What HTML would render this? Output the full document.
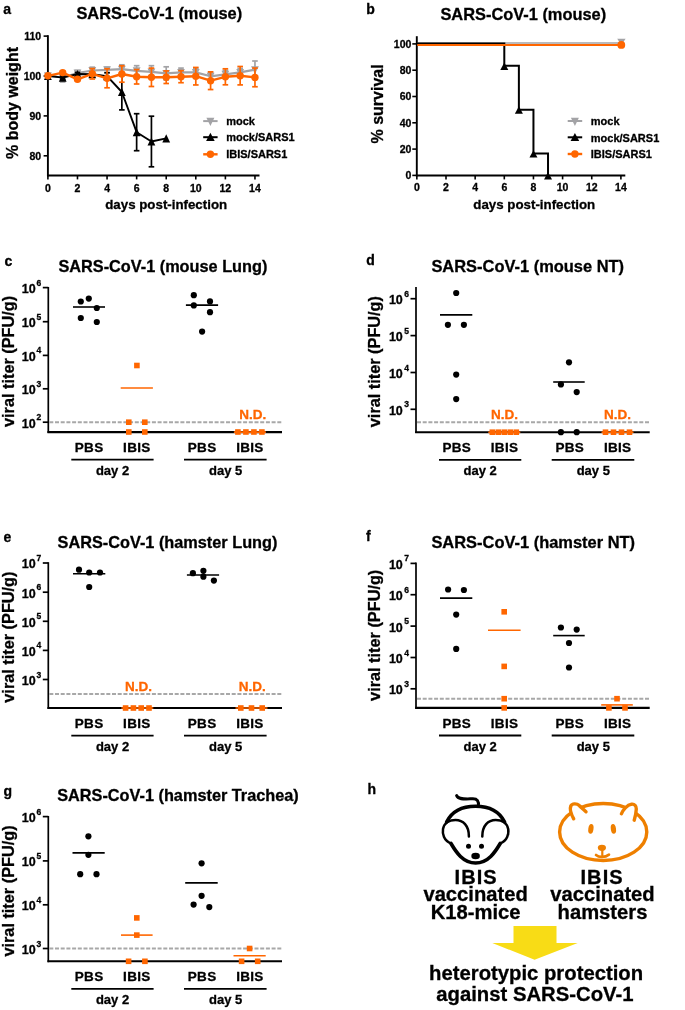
<!DOCTYPE html>
<html><head><meta charset="utf-8"><title>Figure</title>
<style>
html,body{margin:0;padding:0;background:#fff;}
body{width:685px;height:1010px;overflow:hidden;}
svg{display:block;filter:blur(0.3px);}
svg text{font-family:"Liberation Sans",sans-serif;font-weight:bold;stroke-width:0.3px;}
</style></head>
<body>
<svg width="685" height="1010" viewBox="0 0 685 1010">
<rect width="685" height="1010" fill="#fff"/>
<text x="3.3" y="13.6" font-size="14" text-anchor="start" fill="#000" stroke="#000" >a</text>
<text x="366.2" y="13.6" font-size="14" text-anchor="start" fill="#000" stroke="#000" >b</text>
<text x="4.4" y="265.6" font-size="14" text-anchor="start" fill="#000" stroke="#000" >c</text>
<text x="366.2" y="265.3" font-size="14" text-anchor="start" fill="#000" stroke="#000" >d</text>
<text x="3.5" y="541.5" font-size="14" text-anchor="start" fill="#000" stroke="#000" >e</text>
<text x="366.0" y="541.2" font-size="14" text-anchor="start" fill="#000" stroke="#000" >f</text>
<text x="3.5" y="795.5" font-size="14" text-anchor="start" fill="#000" stroke="#000" >g</text>
<text x="367.6" y="794.4" font-size="14" text-anchor="start" fill="#000" stroke="#000" >h</text>
<text x="76.4" y="19.3" font-size="16.4" text-anchor="start" fill="#000" stroke="#000" >SARS-CoV-1 (mouse)</text>
<text x="440.4" y="19.6" font-size="16.4" text-anchor="start" fill="#000" stroke="#000" >SARS-CoV-1 (mouse)</text>
<text x="58.4" y="271.6" font-size="16.3" text-anchor="start" fill="#000" stroke="#000" >SARS-CoV-1 (mouse Lung)</text>
<text x="431.4" y="271.8" font-size="16.45" text-anchor="start" fill="#000" stroke="#000" >SARS-CoV-1 (mouse NT)</text>
<text x="57.6" y="547.8" font-size="16.3" text-anchor="start" fill="#000" stroke="#000" >SARS-CoV-1 (hamster Lung)</text>
<text x="431.4" y="547.7" font-size="16.45" text-anchor="start" fill="#000" stroke="#000" >SARS-CoV-1 (hamster NT)</text>
<text x="57.2" y="801.0" font-size="16.3" text-anchor="start" fill="#000" stroke="#000" >SARS-CoV-1 (hamster Trachea)</text>
<line x1="47.9" y1="35.2" x2="47.9" y2="176.3" stroke="#000" stroke-width="1.9" />
<line x1="47.0" y1="175.4" x2="259.5" y2="175.4" stroke="#000" stroke-width="2.0" />
<line x1="43.6" y1="36.1" x2="47.9" y2="36.1" stroke="#000" stroke-width="1.6" />
<text x="41.2" y="40.2" font-size="10.5" text-anchor="end" fill="#000" stroke="#000" >110</text>
<line x1="43.6" y1="76.0" x2="47.9" y2="76.0" stroke="#000" stroke-width="1.6" />
<text x="41.2" y="80.1" font-size="10.5" text-anchor="end" fill="#000" stroke="#000" >100</text>
<line x1="43.6" y1="115.9" x2="47.9" y2="115.9" stroke="#000" stroke-width="1.6" />
<text x="41.2" y="120.0" font-size="10.5" text-anchor="end" fill="#000" stroke="#000" >90</text>
<line x1="43.6" y1="155.8" x2="47.9" y2="155.8" stroke="#000" stroke-width="1.6" />
<text x="41.2" y="159.9" font-size="10.5" text-anchor="end" fill="#000" stroke="#000" >80</text>
<line x1="47.9" y1="175.4" x2="47.9" y2="179.4" stroke="#000" stroke-width="1.6" />
<text x="47.9" y="191.6" font-size="10.5" text-anchor="middle" fill="#000" stroke="#000" >0</text>
<line x1="77.47999999999999" y1="175.4" x2="77.47999999999999" y2="179.4" stroke="#000" stroke-width="1.6" />
<text x="77.47999999999999" y="191.6" font-size="10.5" text-anchor="middle" fill="#000" stroke="#000" >2</text>
<line x1="107.06" y1="175.4" x2="107.06" y2="179.4" stroke="#000" stroke-width="1.6" />
<text x="107.06" y="191.6" font-size="10.5" text-anchor="middle" fill="#000" stroke="#000" >4</text>
<line x1="136.64" y1="175.4" x2="136.64" y2="179.4" stroke="#000" stroke-width="1.6" />
<text x="136.64" y="191.6" font-size="10.5" text-anchor="middle" fill="#000" stroke="#000" >6</text>
<line x1="166.22" y1="175.4" x2="166.22" y2="179.4" stroke="#000" stroke-width="1.6" />
<text x="166.22" y="191.6" font-size="10.5" text-anchor="middle" fill="#000" stroke="#000" >8</text>
<line x1="195.79999999999998" y1="175.4" x2="195.79999999999998" y2="179.4" stroke="#000" stroke-width="1.6" />
<text x="195.79999999999998" y="191.6" font-size="10.5" text-anchor="middle" fill="#000" stroke="#000" >10</text>
<line x1="225.38" y1="175.4" x2="225.38" y2="179.4" stroke="#000" stroke-width="1.6" />
<text x="225.38" y="191.6" font-size="10.5" text-anchor="middle" fill="#000" stroke="#000" >12</text>
<line x1="254.96" y1="175.4" x2="254.96" y2="179.4" stroke="#000" stroke-width="1.6" />
<text x="254.96" y="191.6" font-size="10.5" text-anchor="middle" fill="#000" stroke="#000" >14</text>
<text x="166.2" y="209.4" font-size="13.3" text-anchor="middle" fill="#000" stroke="#000" >days post-infection</text>
<text transform="translate(18.1,103) rotate(-90)" stroke="#000" font-size="16" text-anchor="middle">% body weight</text>
<polyline points="47.90,75.80 62.69,77.50 77.48,73.00 92.27,70.50 107.06,69.80 121.85,69.20 136.64,70.80 151.43,71.90 166.22,73.40 181.01,72.40 195.80,72.40 210.59,76.30 225.38,74.30 240.17,72.40 254.96,69.70" fill="none" stroke="#A3A3A6" stroke-width="2.2" stroke-linejoin="round"/>
<line x1="47.9" y1="74.3" x2="47.9" y2="77.3" stroke="#A3A3A6" stroke-width="1.7" />
<line x1="45.1" y1="74.3" x2="50.699999999999996" y2="74.3" stroke="#A3A3A6" stroke-width="1.7" />
<line x1="45.1" y1="77.3" x2="50.699999999999996" y2="77.3" stroke="#A3A3A6" stroke-width="1.7" />
<line x1="62.69" y1="73.0" x2="62.69" y2="82.0" stroke="#A3A3A6" stroke-width="1.7" />
<line x1="59.89" y1="73.0" x2="65.49" y2="73.0" stroke="#A3A3A6" stroke-width="1.7" />
<line x1="59.89" y1="82.0" x2="65.49" y2="82.0" stroke="#A3A3A6" stroke-width="1.7" />
<line x1="77.47999999999999" y1="70.5" x2="77.47999999999999" y2="75.5" stroke="#A3A3A6" stroke-width="1.7" />
<line x1="74.67999999999999" y1="70.5" x2="80.27999999999999" y2="70.5" stroke="#A3A3A6" stroke-width="1.7" />
<line x1="74.67999999999999" y1="75.5" x2="80.27999999999999" y2="75.5" stroke="#A3A3A6" stroke-width="1.7" />
<line x1="92.27" y1="67.2" x2="92.27" y2="73.8" stroke="#A3A3A6" stroke-width="1.7" />
<line x1="89.47" y1="67.2" x2="95.07" y2="67.2" stroke="#A3A3A6" stroke-width="1.7" />
<line x1="89.47" y1="73.8" x2="95.07" y2="73.8" stroke="#A3A3A6" stroke-width="1.7" />
<line x1="107.06" y1="67.2" x2="107.06" y2="72.39999999999999" stroke="#A3A3A6" stroke-width="1.7" />
<line x1="104.26" y1="67.2" x2="109.86" y2="67.2" stroke="#A3A3A6" stroke-width="1.7" />
<line x1="104.26" y1="72.39999999999999" x2="109.86" y2="72.39999999999999" stroke="#A3A3A6" stroke-width="1.7" />
<line x1="121.85" y1="64.8" x2="121.85" y2="73.60000000000001" stroke="#A3A3A6" stroke-width="1.7" />
<line x1="119.05" y1="64.8" x2="124.64999999999999" y2="64.8" stroke="#A3A3A6" stroke-width="1.7" />
<line x1="119.05" y1="73.60000000000001" x2="124.64999999999999" y2="73.60000000000001" stroke="#A3A3A6" stroke-width="1.7" />
<line x1="136.64" y1="65.7" x2="136.64" y2="75.89999999999999" stroke="#A3A3A6" stroke-width="1.7" />
<line x1="133.83999999999997" y1="65.7" x2="139.44" y2="65.7" stroke="#A3A3A6" stroke-width="1.7" />
<line x1="133.83999999999997" y1="75.89999999999999" x2="139.44" y2="75.89999999999999" stroke="#A3A3A6" stroke-width="1.7" />
<line x1="151.43" y1="65.7" x2="151.43" y2="78.10000000000001" stroke="#A3A3A6" stroke-width="1.7" />
<line x1="148.63" y1="65.7" x2="154.23000000000002" y2="65.7" stroke="#A3A3A6" stroke-width="1.7" />
<line x1="148.63" y1="78.10000000000001" x2="154.23000000000002" y2="78.10000000000001" stroke="#A3A3A6" stroke-width="1.7" />
<line x1="166.22" y1="66.80000000000001" x2="166.22" y2="80.0" stroke="#A3A3A6" stroke-width="1.7" />
<line x1="163.42" y1="66.80000000000001" x2="169.02" y2="66.80000000000001" stroke="#A3A3A6" stroke-width="1.7" />
<line x1="163.42" y1="80.0" x2="169.02" y2="80.0" stroke="#A3A3A6" stroke-width="1.7" />
<line x1="181.01" y1="68.10000000000001" x2="181.01" y2="76.7" stroke="#A3A3A6" stroke-width="1.7" />
<line x1="178.20999999999998" y1="68.10000000000001" x2="183.81" y2="68.10000000000001" stroke="#A3A3A6" stroke-width="1.7" />
<line x1="178.20999999999998" y1="76.7" x2="183.81" y2="76.7" stroke="#A3A3A6" stroke-width="1.7" />
<line x1="195.79999999999998" y1="68.4" x2="195.79999999999998" y2="76.4" stroke="#A3A3A6" stroke-width="1.7" />
<line x1="192.99999999999997" y1="68.4" x2="198.6" y2="68.4" stroke="#A3A3A6" stroke-width="1.7" />
<line x1="192.99999999999997" y1="76.4" x2="198.6" y2="76.4" stroke="#A3A3A6" stroke-width="1.7" />
<line x1="210.59" y1="72.5" x2="210.59" y2="80.1" stroke="#A3A3A6" stroke-width="1.7" />
<line x1="207.79" y1="72.5" x2="213.39000000000001" y2="72.5" stroke="#A3A3A6" stroke-width="1.7" />
<line x1="207.79" y1="80.1" x2="213.39000000000001" y2="80.1" stroke="#A3A3A6" stroke-width="1.7" />
<line x1="225.38" y1="70.3" x2="225.38" y2="78.3" stroke="#A3A3A6" stroke-width="1.7" />
<line x1="222.57999999999998" y1="70.3" x2="228.18" y2="70.3" stroke="#A3A3A6" stroke-width="1.7" />
<line x1="222.57999999999998" y1="78.3" x2="228.18" y2="78.3" stroke="#A3A3A6" stroke-width="1.7" />
<line x1="240.17" y1="68.4" x2="240.17" y2="76.4" stroke="#A3A3A6" stroke-width="1.7" />
<line x1="237.36999999999998" y1="68.4" x2="242.97" y2="68.4" stroke="#A3A3A6" stroke-width="1.7" />
<line x1="237.36999999999998" y1="76.4" x2="242.97" y2="76.4" stroke="#A3A3A6" stroke-width="1.7" />
<line x1="254.96" y1="61.0" x2="254.96" y2="78.4" stroke="#A3A3A6" stroke-width="1.7" />
<line x1="252.16" y1="61.0" x2="257.76" y2="61.0" stroke="#A3A3A6" stroke-width="1.7" />
<line x1="252.16" y1="78.4" x2="257.76" y2="78.4" stroke="#A3A3A6" stroke-width="1.7" />
<polygon points="44.00,72.29 51.80,72.29 47.90,80.09" fill="#A3A3A6"/>
<polygon points="58.79,73.99 66.59,73.99 62.69,81.79" fill="#A3A3A6"/>
<polygon points="73.58,69.49 81.38,69.49 77.48,77.29" fill="#A3A3A6"/>
<polygon points="88.37,66.99 96.17,66.99 92.27,74.79" fill="#A3A3A6"/>
<polygon points="103.16,66.29 110.96,66.29 107.06,74.09" fill="#A3A3A6"/>
<polygon points="117.95,65.69 125.75,65.69 121.85,73.49" fill="#A3A3A6"/>
<polygon points="132.74,67.29 140.54,67.29 136.64,75.09" fill="#A3A3A6"/>
<polygon points="147.53,68.39 155.33,68.39 151.43,76.19" fill="#A3A3A6"/>
<polygon points="162.32,69.89 170.12,69.89 166.22,77.69" fill="#A3A3A6"/>
<polygon points="177.11,68.89 184.91,68.89 181.01,76.69" fill="#A3A3A6"/>
<polygon points="191.90,68.89 199.70,68.89 195.80,76.69" fill="#A3A3A6"/>
<polygon points="206.69,72.79 214.49,72.79 210.59,80.59" fill="#A3A3A6"/>
<polygon points="221.48,70.79 229.28,70.79 225.38,78.59" fill="#A3A3A6"/>
<polygon points="236.27,68.89 244.07,68.89 240.17,76.69" fill="#A3A3A6"/>
<polygon points="251.06,66.19 258.86,66.19 254.96,73.99" fill="#A3A3A6"/>
<polyline points="47.90,75.80 62.69,77.60 77.48,74.00 92.27,74.20 107.06,76.20 121.85,92.00 136.64,132.20 151.43,141.50 166.22,138.40" fill="none" stroke="#000" stroke-width="1.9" stroke-linejoin="round"/>
<line x1="62.69" y1="76.1" x2="62.69" y2="79.1" stroke="#000" stroke-width="1.7" />
<line x1="59.89" y1="76.1" x2="65.49" y2="76.1" stroke="#000" stroke-width="1.7" />
<line x1="59.89" y1="79.1" x2="65.49" y2="79.1" stroke="#000" stroke-width="1.7" />
<line x1="77.47999999999999" y1="72.5" x2="77.47999999999999" y2="75.5" stroke="#000" stroke-width="1.7" />
<line x1="74.67999999999999" y1="72.5" x2="80.27999999999999" y2="72.5" stroke="#000" stroke-width="1.7" />
<line x1="74.67999999999999" y1="75.5" x2="80.27999999999999" y2="75.5" stroke="#000" stroke-width="1.7" />
<line x1="92.27" y1="72.4" x2="92.27" y2="76.0" stroke="#000" stroke-width="1.7" />
<line x1="89.47" y1="72.4" x2="95.07" y2="72.4" stroke="#000" stroke-width="1.7" />
<line x1="89.47" y1="76.0" x2="95.07" y2="76.0" stroke="#000" stroke-width="1.7" />
<line x1="107.06" y1="72.8" x2="107.06" y2="79.60000000000001" stroke="#000" stroke-width="1.7" />
<line x1="104.26" y1="72.8" x2="109.86" y2="72.8" stroke="#000" stroke-width="1.7" />
<line x1="104.26" y1="79.60000000000001" x2="109.86" y2="79.60000000000001" stroke="#000" stroke-width="1.7" />
<line x1="121.85" y1="74.1" x2="121.85" y2="109.9" stroke="#000" stroke-width="1.7" />
<line x1="119.05" y1="74.1" x2="124.64999999999999" y2="74.1" stroke="#000" stroke-width="1.7" />
<line x1="119.05" y1="109.9" x2="124.64999999999999" y2="109.9" stroke="#000" stroke-width="1.7" />
<line x1="136.64" y1="113.69999999999999" x2="136.64" y2="150.7" stroke="#000" stroke-width="1.7" />
<line x1="133.83999999999997" y1="113.69999999999999" x2="139.44" y2="113.69999999999999" stroke="#000" stroke-width="1.7" />
<line x1="133.83999999999997" y1="150.7" x2="139.44" y2="150.7" stroke="#000" stroke-width="1.7" />
<line x1="151.43" y1="116.2" x2="151.43" y2="166.8" stroke="#000" stroke-width="1.7" />
<line x1="148.63" y1="116.2" x2="154.23000000000002" y2="116.2" stroke="#000" stroke-width="1.7" />
<line x1="148.63" y1="166.8" x2="154.23000000000002" y2="166.8" stroke="#000" stroke-width="1.7" />
<polygon points="44.00,79.90 51.80,79.90 47.90,71.70" fill="#000"/>
<polygon points="58.79,81.70 66.59,81.70 62.69,73.50" fill="#000"/>
<polygon points="73.58,78.10 81.38,78.10 77.48,69.90" fill="#000"/>
<polygon points="88.37,78.30 96.17,78.30 92.27,70.10" fill="#000"/>
<polygon points="103.16,80.30 110.96,80.30 107.06,72.10" fill="#000"/>
<polygon points="117.95,96.10 125.75,96.10 121.85,87.90" fill="#000"/>
<polygon points="132.74,136.30 140.54,136.30 136.64,128.10" fill="#000"/>
<polygon points="147.53,145.60 155.33,145.60 151.43,137.40" fill="#000"/>
<polygon points="162.32,142.50 170.12,142.50 166.22,134.30" fill="#000"/>
<polyline points="47.90,75.80 62.69,72.60 77.48,79.30 92.27,73.80 107.06,78.30 121.85,74.00 136.64,76.80 151.43,77.30 166.22,77.20 181.01,76.70 195.80,76.20 210.59,80.70 225.38,76.80 240.17,75.70 254.96,77.40" fill="none" stroke="#FF6600" stroke-width="2.4" stroke-linejoin="round"/>
<line x1="62.69" y1="71.1" x2="62.69" y2="74.1" stroke="#FF6600" stroke-width="1.7" />
<line x1="59.89" y1="71.1" x2="65.49" y2="71.1" stroke="#FF6600" stroke-width="1.7" />
<line x1="59.89" y1="74.1" x2="65.49" y2="74.1" stroke="#FF6600" stroke-width="1.7" />
<line x1="77.47999999999999" y1="77.8" x2="77.47999999999999" y2="80.8" stroke="#FF6600" stroke-width="1.7" />
<line x1="74.67999999999999" y1="77.8" x2="80.27999999999999" y2="77.8" stroke="#FF6600" stroke-width="1.7" />
<line x1="74.67999999999999" y1="80.8" x2="80.27999999999999" y2="80.8" stroke="#FF6600" stroke-width="1.7" />
<line x1="92.27" y1="68.6" x2="92.27" y2="79.0" stroke="#FF6600" stroke-width="1.7" />
<line x1="89.47" y1="68.6" x2="95.07" y2="68.6" stroke="#FF6600" stroke-width="1.7" />
<line x1="89.47" y1="79.0" x2="95.07" y2="79.0" stroke="#FF6600" stroke-width="1.7" />
<line x1="107.06" y1="68.8" x2="107.06" y2="87.8" stroke="#FF6600" stroke-width="1.7" />
<line x1="104.26" y1="68.8" x2="109.86" y2="68.8" stroke="#FF6600" stroke-width="1.7" />
<line x1="104.26" y1="87.8" x2="109.86" y2="87.8" stroke="#FF6600" stroke-width="1.7" />
<line x1="121.85" y1="65.8" x2="121.85" y2="82.2" stroke="#FF6600" stroke-width="1.7" />
<line x1="119.05" y1="65.8" x2="124.64999999999999" y2="65.8" stroke="#FF6600" stroke-width="1.7" />
<line x1="119.05" y1="82.2" x2="124.64999999999999" y2="82.2" stroke="#FF6600" stroke-width="1.7" />
<line x1="136.64" y1="69.6" x2="136.64" y2="84.0" stroke="#FF6600" stroke-width="1.7" />
<line x1="133.83999999999997" y1="69.6" x2="139.44" y2="69.6" stroke="#FF6600" stroke-width="1.7" />
<line x1="133.83999999999997" y1="84.0" x2="139.44" y2="84.0" stroke="#FF6600" stroke-width="1.7" />
<line x1="151.43" y1="68.1" x2="151.43" y2="86.5" stroke="#FF6600" stroke-width="1.7" />
<line x1="148.63" y1="68.1" x2="154.23000000000002" y2="68.1" stroke="#FF6600" stroke-width="1.7" />
<line x1="148.63" y1="86.5" x2="154.23000000000002" y2="86.5" stroke="#FF6600" stroke-width="1.7" />
<line x1="166.22" y1="70.9" x2="166.22" y2="83.5" stroke="#FF6600" stroke-width="1.7" />
<line x1="163.42" y1="70.9" x2="169.02" y2="70.9" stroke="#FF6600" stroke-width="1.7" />
<line x1="163.42" y1="83.5" x2="169.02" y2="83.5" stroke="#FF6600" stroke-width="1.7" />
<line x1="181.01" y1="70.7" x2="181.01" y2="82.7" stroke="#FF6600" stroke-width="1.7" />
<line x1="178.20999999999998" y1="70.7" x2="183.81" y2="70.7" stroke="#FF6600" stroke-width="1.7" />
<line x1="178.20999999999998" y1="82.7" x2="183.81" y2="82.7" stroke="#FF6600" stroke-width="1.7" />
<line x1="195.79999999999998" y1="67.45" x2="195.79999999999998" y2="84.95" stroke="#FF6600" stroke-width="1.7" />
<line x1="192.99999999999997" y1="67.45" x2="198.6" y2="67.45" stroke="#FF6600" stroke-width="1.7" />
<line x1="192.99999999999997" y1="84.95" x2="198.6" y2="84.95" stroke="#FF6600" stroke-width="1.7" />
<line x1="210.59" y1="71.85000000000001" x2="210.59" y2="89.55" stroke="#FF6600" stroke-width="1.7" />
<line x1="207.79" y1="71.85000000000001" x2="213.39000000000001" y2="71.85000000000001" stroke="#FF6600" stroke-width="1.7" />
<line x1="207.79" y1="89.55" x2="213.39000000000001" y2="89.55" stroke="#FF6600" stroke-width="1.7" />
<line x1="225.38" y1="68.8" x2="225.38" y2="84.8" stroke="#FF6600" stroke-width="1.7" />
<line x1="222.57999999999998" y1="68.8" x2="228.18" y2="68.8" stroke="#FF6600" stroke-width="1.7" />
<line x1="222.57999999999998" y1="84.8" x2="228.18" y2="84.8" stroke="#FF6600" stroke-width="1.7" />
<line x1="240.17" y1="66.5" x2="240.17" y2="84.9" stroke="#FF6600" stroke-width="1.7" />
<line x1="237.36999999999998" y1="66.5" x2="242.97" y2="66.5" stroke="#FF6600" stroke-width="1.7" />
<line x1="237.36999999999998" y1="84.9" x2="242.97" y2="84.9" stroke="#FF6600" stroke-width="1.7" />
<line x1="254.96" y1="68.05000000000001" x2="254.96" y2="86.75" stroke="#FF6600" stroke-width="1.7" />
<line x1="252.16" y1="68.05000000000001" x2="257.76" y2="68.05000000000001" stroke="#FF6600" stroke-width="1.7" />
<line x1="252.16" y1="86.75" x2="257.76" y2="86.75" stroke="#FF6600" stroke-width="1.7" />
<circle cx="47.9" cy="75.8" r="3.7" fill="#FF6600"/>
<circle cx="62.69" cy="72.6" r="3.7" fill="#FF6600"/>
<circle cx="77.47999999999999" cy="79.3" r="3.7" fill="#FF6600"/>
<circle cx="92.27" cy="73.8" r="3.7" fill="#FF6600"/>
<circle cx="107.06" cy="78.3" r="3.7" fill="#FF6600"/>
<circle cx="121.85" cy="74.0" r="3.7" fill="#FF6600"/>
<circle cx="136.64" cy="76.8" r="3.7" fill="#FF6600"/>
<circle cx="151.43" cy="77.3" r="3.7" fill="#FF6600"/>
<circle cx="166.22" cy="77.2" r="3.7" fill="#FF6600"/>
<circle cx="181.01" cy="76.7" r="3.7" fill="#FF6600"/>
<circle cx="195.79999999999998" cy="76.2" r="3.7" fill="#FF6600"/>
<circle cx="210.59" cy="80.7" r="3.7" fill="#FF6600"/>
<circle cx="225.38" cy="76.8" r="3.7" fill="#FF6600"/>
<circle cx="240.17" cy="75.7" r="3.7" fill="#FF6600"/>
<circle cx="254.96" cy="77.4" r="3.7" fill="#FF6600"/>
<line x1="203.2" y1="121.1" x2="217.6" y2="121.1" stroke="#A3A3A6" stroke-width="2.0" />
<polygon points="206.40,117.81 214.40,117.81 210.40,126.01" fill="#A3A3A6"/>
<line x1="203.2" y1="137.2" x2="217.6" y2="137.2" stroke="#000" stroke-width="2.0" />
<polygon points="206.10,141.00 214.70,141.00 210.40,132.80" fill="#000"/>
<line x1="203.2" y1="154.3" x2="217.6" y2="154.3" stroke="#FF6600" stroke-width="2.4" />
<circle cx="210.4" cy="154.3" r="3.7" fill="#FF6600"/>
<text x="226.2" y="125.0" font-size="11" text-anchor="start" fill="#000" stroke="#000" >mock</text>
<text x="226.2" y="141.2" font-size="11" text-anchor="start" fill="#000" stroke="#000" >mock/SARS1</text>
<text x="226.2" y="157.6" font-size="11" text-anchor="start" fill="#000" stroke="#000" >IBIS/SARS1</text>
<line x1="416.8" y1="36.2" x2="416.8" y2="176.3" stroke="#000" stroke-width="1.9" />
<line x1="415.90000000000003" y1="175.4" x2="625.3" y2="175.4" stroke="#000" stroke-width="2.0" />
<line x1="412.3" y1="175.4" x2="416.8" y2="175.4" stroke="#000" stroke-width="1.6" />
<text x="411.4" y="179.3" font-size="10.5" text-anchor="end" fill="#000" stroke="#000" >0</text>
<line x1="412.3" y1="149.10000000000002" x2="416.8" y2="149.10000000000002" stroke="#000" stroke-width="1.6" />
<text x="411.4" y="153.00000000000003" font-size="10.5" text-anchor="end" fill="#000" stroke="#000" >20</text>
<line x1="412.3" y1="122.80000000000001" x2="416.8" y2="122.80000000000001" stroke="#000" stroke-width="1.6" />
<text x="411.4" y="126.70000000000002" font-size="10.5" text-anchor="end" fill="#000" stroke="#000" >40</text>
<line x1="412.3" y1="96.50000000000001" x2="416.8" y2="96.50000000000001" stroke="#000" stroke-width="1.6" />
<text x="411.4" y="100.40000000000002" font-size="10.5" text-anchor="end" fill="#000" stroke="#000" >60</text>
<line x1="412.3" y1="70.20000000000002" x2="416.8" y2="70.20000000000002" stroke="#000" stroke-width="1.6" />
<text x="411.4" y="74.10000000000002" font-size="10.5" text-anchor="end" fill="#000" stroke="#000" >80</text>
<line x1="412.3" y1="43.900000000000006" x2="416.8" y2="43.900000000000006" stroke="#000" stroke-width="1.6" />
<text x="411.4" y="47.800000000000004" font-size="10.5" text-anchor="end" fill="#000" stroke="#000" >100</text>
<line x1="416.85" y1="175.4" x2="416.85" y2="179.4" stroke="#000" stroke-width="1.6" />
<text x="416.85" y="191.4" font-size="10.5" text-anchor="middle" fill="#000" stroke="#000" >0</text>
<line x1="446.0" y1="175.4" x2="446.0" y2="179.4" stroke="#000" stroke-width="1.6" />
<text x="446.0" y="191.4" font-size="10.5" text-anchor="middle" fill="#000" stroke="#000" >2</text>
<line x1="475.15000000000003" y1="175.4" x2="475.15000000000003" y2="179.4" stroke="#000" stroke-width="1.6" />
<text x="475.15000000000003" y="191.4" font-size="10.5" text-anchor="middle" fill="#000" stroke="#000" >4</text>
<line x1="504.3" y1="175.4" x2="504.3" y2="179.4" stroke="#000" stroke-width="1.6" />
<text x="504.3" y="191.4" font-size="10.5" text-anchor="middle" fill="#000" stroke="#000" >6</text>
<line x1="533.45" y1="175.4" x2="533.45" y2="179.4" stroke="#000" stroke-width="1.6" />
<text x="533.45" y="191.4" font-size="10.5" text-anchor="middle" fill="#000" stroke="#000" >8</text>
<line x1="562.6" y1="175.4" x2="562.6" y2="179.4" stroke="#000" stroke-width="1.6" />
<text x="562.6" y="191.4" font-size="10.5" text-anchor="middle" fill="#000" stroke="#000" >10</text>
<line x1="591.75" y1="175.4" x2="591.75" y2="179.4" stroke="#000" stroke-width="1.6" />
<text x="591.75" y="191.4" font-size="10.5" text-anchor="middle" fill="#000" stroke="#000" >12</text>
<line x1="620.9" y1="175.4" x2="620.9" y2="179.4" stroke="#000" stroke-width="1.6" />
<text x="620.9" y="191.4" font-size="10.5" text-anchor="middle" fill="#000" stroke="#000" >14</text>
<text x="534.3" y="209.0" font-size="13.3" text-anchor="middle" fill="#000" stroke="#000" >days post-infection</text>
<text transform="translate(382.9,103.9) rotate(-90)" stroke="#000" font-size="16" text-anchor="middle">% survival</text>
<line x1="417.8" y1="43.0" x2="620.9" y2="43.0" stroke="#A3A3A6" stroke-width="1.7" />
<polygon points="617.20,38.72 625.60,38.72 621.40,45.12" fill="#A3A3A6"/>
<polyline points="416.80,43.60 504.30,43.60 504.30,65.82 518.88,65.82 518.88,109.65 533.45,109.65 533.45,153.48 548.02,153.48 548.02,175.40" fill="none" stroke="#000" stroke-width="2.0"/>
<polygon points="500.30,69.92 508.30,69.92 504.30,62.52" fill="#000"/>
<polygon points="514.88,113.75 522.88,113.75 518.88,106.35" fill="#000"/>
<polygon points="529.45,157.58 537.45,157.58 533.45,150.18" fill="#000"/>
<polygon points="544.02,179.50 552.02,179.50 548.02,172.10" fill="#000"/>
<line x1="417.3" y1="45.0" x2="620.9" y2="45.0" stroke="#FF6600" stroke-width="2.2" />
<circle cx="621.3" cy="44.9" r="3.9" fill="#FF6600"/>
<line x1="567.7" y1="121.0" x2="582.2" y2="121.0" stroke="#A3A3A6" stroke-width="2.0" />
<polygon points="570.90,117.71 578.90,117.71 574.90,125.91" fill="#A3A3A6"/>
<line x1="567.7" y1="137.3" x2="582.2" y2="137.3" stroke="#000" stroke-width="2.0" />
<polygon points="570.60,141.10 579.20,141.10 574.90,132.90" fill="#000"/>
<line x1="567.7" y1="154.0" x2="582.2" y2="154.0" stroke="#FF6600" stroke-width="2.4" />
<circle cx="574.9" cy="154.0" r="3.7" fill="#FF6600"/>
<text x="590.8" y="125.3" font-size="11" text-anchor="start" fill="#000" stroke="#000" >mock</text>
<text x="590.8" y="141.6" font-size="11" text-anchor="start" fill="#000" stroke="#000" >mock/SARS1</text>
<text x="590.8" y="158.0" font-size="11" text-anchor="start" fill="#000" stroke="#000" >IBIS/SARS1</text>
<line x1="48.3" y1="287.0" x2="48.3" y2="433.0" stroke="#000" stroke-width="1.7" />
<line x1="47.449999999999996" y1="432.1" x2="282.0" y2="432.1" stroke="#000" stroke-width="2.1" />
<line x1="42.8" y1="287.6" x2="48.3" y2="287.6" stroke="#000" stroke-width="1.7" />
<text x="35.6" y="293.0" font-size="12.5" text-anchor="end" fill="#000" stroke="#000" >10</text>
<text x="36.6" y="285.6" font-size="8.5" text-anchor="start" fill="#000" stroke="#000" >6</text>
<line x1="42.8" y1="321.7" x2="48.3" y2="321.7" stroke="#000" stroke-width="1.7" />
<text x="35.6" y="327.09999999999997" font-size="12.5" text-anchor="end" fill="#000" stroke="#000" >10</text>
<text x="36.6" y="319.7" font-size="8.5" text-anchor="start" fill="#000" stroke="#000" >5</text>
<line x1="42.8" y1="355.4" x2="48.3" y2="355.4" stroke="#000" stroke-width="1.7" />
<text x="35.6" y="360.79999999999995" font-size="12.5" text-anchor="end" fill="#000" stroke="#000" >10</text>
<text x="36.6" y="353.4" font-size="8.5" text-anchor="start" fill="#000" stroke="#000" >4</text>
<line x1="42.8" y1="388.8" x2="48.3" y2="388.8" stroke="#000" stroke-width="1.7" />
<text x="35.6" y="394.2" font-size="12.5" text-anchor="end" fill="#000" stroke="#000" >10</text>
<text x="36.6" y="386.8" font-size="8.5" text-anchor="start" fill="#000" stroke="#000" >3</text>
<line x1="42.8" y1="422.2" x2="48.3" y2="422.2" stroke="#000" stroke-width="1.7" />
<text x="35.6" y="427.59999999999997" font-size="12.5" text-anchor="end" fill="#000" stroke="#000" >10</text>
<text x="36.6" y="420.2" font-size="8.5" text-anchor="start" fill="#000" stroke="#000" >2</text>
<line x1="49.3" y1="422.2" x2="282.0" y2="422.2" stroke="#A8A8A8" stroke-width="2.0" stroke-dasharray="4 1.7"/>
<line x1="73.0" y1="307.0" x2="105.0" y2="307.0" stroke="#000" stroke-width="1.6" />
<circle cx="80.8" cy="301.5" r="3.1" fill="#000"/>
<circle cx="88.8" cy="298.6" r="3.1" fill="#000"/>
<circle cx="96.8" cy="308.0" r="3.1" fill="#000"/>
<circle cx="80.8" cy="318.0" r="3.1" fill="#000"/>
<circle cx="96.8" cy="322.0" r="3.1" fill="#000"/>
<line x1="120.7" y1="388.0" x2="152.9" y2="388.0" stroke="#FF6600" stroke-width="1.6" />
<rect x="134.10" y="362.70" width="5.6" height="5.6" fill="#FF6600"/>
<rect x="126.00" y="419.40" width="5.6" height="5.6" fill="#FF6600"/>
<rect x="142.00" y="419.40" width="5.6" height="5.6" fill="#FF6600"/>
<rect x="126.00" y="429.20" width="5.6" height="5.6" fill="#FF6600"/>
<rect x="142.00" y="429.20" width="5.6" height="5.6" fill="#FF6600"/>
<line x1="185.9" y1="305.1" x2="218.1" y2="305.1" stroke="#000" stroke-width="1.6" />
<circle cx="193.8" cy="295.2" r="3.1" fill="#000"/>
<circle cx="193.8" cy="305.4" r="3.1" fill="#000"/>
<circle cx="210.0" cy="301.4" r="3.1" fill="#000"/>
<circle cx="210.0" cy="312.2" r="3.1" fill="#000"/>
<circle cx="202.1" cy="331.6" r="3.1" fill="#000"/>
<line x1="233.9" y1="432.1" x2="265.9" y2="432.1" stroke="#FF6600" stroke-width="1.6" />
<rect x="235.10" y="429.20" width="5.6" height="5.6" fill="#FF6600"/>
<rect x="243.10" y="429.20" width="5.6" height="5.6" fill="#FF6600"/>
<rect x="251.10" y="429.20" width="5.6" height="5.6" fill="#FF6600"/>
<rect x="259.10" y="429.20" width="5.6" height="5.6" fill="#FF6600"/>
<text x="252.8" y="418.6" font-size="13.5" text-anchor="middle" fill="#FF6600" stroke="#FF6600" >N.D.</text>
<text x="89.15" y="452.20000000000005" font-size="13.5" text-anchor="middle" fill="#000" stroke="#000" letter-spacing="0.3">PBS</text>
<text x="136.85" y="452.20000000000005" font-size="13.5" text-anchor="middle" fill="#000" stroke="#000" letter-spacing="0.3">IBIS</text>
<text x="202.15" y="452.20000000000005" font-size="13.5" text-anchor="middle" fill="#000" stroke="#000" letter-spacing="0.3">PBS</text>
<text x="249.95000000000002" y="452.20000000000005" font-size="13.5" text-anchor="middle" fill="#000" stroke="#000" letter-spacing="0.3">IBIS</text>
<line x1="71.3" y1="459.70000000000005" x2="153.6" y2="459.70000000000005" stroke="#000" stroke-width="1.8" />
<line x1="184.0" y1="459.70000000000005" x2="266.6" y2="459.70000000000005" stroke="#000" stroke-width="1.8" />
<text x="112.5" y="475.0" font-size="13" text-anchor="middle" fill="#000" stroke="#000" >day 2</text>
<text x="225.6" y="475.0" font-size="13" text-anchor="middle" fill="#000" stroke="#000" >day 5</text>
<text transform="translate(13.9,361.4) rotate(-90)" stroke="#000" font-size="16.3" text-anchor="middle">viral titer (PFU/g)</text>
<line x1="416.0" y1="286.9" x2="416.0" y2="433.09999999999997" stroke="#000" stroke-width="1.7" />
<line x1="415.15" y1="432.2" x2="649.7" y2="432.2" stroke="#000" stroke-width="2.1" />
<line x1="410.5" y1="298.7" x2="416.0" y2="298.7" stroke="#000" stroke-width="1.7" />
<text x="402.8" y="304.09999999999997" font-size="12.5" text-anchor="end" fill="#000" stroke="#000" >10</text>
<text x="404.2" y="296.7" font-size="8.5" text-anchor="start" fill="#000" stroke="#000" >6</text>
<line x1="410.5" y1="335.6" x2="416.0" y2="335.6" stroke="#000" stroke-width="1.7" />
<text x="402.8" y="341.0" font-size="12.5" text-anchor="end" fill="#000" stroke="#000" >10</text>
<text x="404.2" y="333.6" font-size="8.5" text-anchor="start" fill="#000" stroke="#000" >5</text>
<line x1="410.5" y1="372.5" x2="416.0" y2="372.5" stroke="#000" stroke-width="1.7" />
<text x="402.8" y="377.9" font-size="12.5" text-anchor="end" fill="#000" stroke="#000" >10</text>
<text x="404.2" y="370.5" font-size="8.5" text-anchor="start" fill="#000" stroke="#000" >4</text>
<line x1="410.5" y1="409.3" x2="416.0" y2="409.3" stroke="#000" stroke-width="1.7" />
<text x="402.8" y="414.7" font-size="12.5" text-anchor="end" fill="#000" stroke="#000" >10</text>
<text x="404.2" y="407.3" font-size="8.5" text-anchor="start" fill="#000" stroke="#000" >3</text>
<line x1="417.0" y1="422.3" x2="649.7" y2="422.3" stroke="#A8A8A8" stroke-width="2.0" stroke-dasharray="4 1.7"/>
<line x1="440.0" y1="314.9" x2="472.3" y2="314.9" stroke="#000" stroke-width="1.6" />
<circle cx="456.2" cy="293.0" r="3.1" fill="#000"/>
<circle cx="447.9" cy="324.8" r="3.1" fill="#000"/>
<circle cx="463.9" cy="324.8" r="3.1" fill="#000"/>
<circle cx="456.2" cy="374.6" r="3.1" fill="#000"/>
<circle cx="456.2" cy="399.1" r="3.1" fill="#000"/>
<line x1="488.29999999999995" y1="432.2" x2="520.3" y2="432.2" stroke="#FF6600" stroke-width="1.6" />
<rect x="489.50" y="429.40" width="5.6" height="5.6" fill="#FF6600"/>
<rect x="495.50" y="429.40" width="5.6" height="5.6" fill="#FF6600"/>
<rect x="501.50" y="429.40" width="5.6" height="5.6" fill="#FF6600"/>
<rect x="507.50" y="429.40" width="5.6" height="5.6" fill="#FF6600"/>
<rect x="513.50" y="429.40" width="5.6" height="5.6" fill="#FF6600"/>
<line x1="553.2" y1="382.0" x2="584.7" y2="382.0" stroke="#000" stroke-width="1.6" />
<circle cx="569.0" cy="362.3" r="3.1" fill="#000"/>
<circle cx="560.9" cy="384.4" r="3.1" fill="#000"/>
<circle cx="576.7" cy="392.1" r="3.1" fill="#000"/>
<circle cx="560.9" cy="432.2" r="3.1" fill="#000"/>
<circle cx="576.7" cy="432.2" r="3.1" fill="#000"/>
<line x1="601.5" y1="432.2" x2="633.5" y2="432.2" stroke="#FF6600" stroke-width="1.6" />
<rect x="602.70" y="429.40" width="5.6" height="5.6" fill="#FF6600"/>
<rect x="610.70" y="429.40" width="5.6" height="5.6" fill="#FF6600"/>
<rect x="618.70" y="429.40" width="5.6" height="5.6" fill="#FF6600"/>
<rect x="626.70" y="429.40" width="5.6" height="5.6" fill="#FF6600"/>
<text x="504.5" y="418.7" font-size="13.5" text-anchor="middle" fill="#FF6600" stroke="#FF6600" >N.D.</text>
<text x="617.6" y="418.7" font-size="13.5" text-anchor="middle" fill="#FF6600" stroke="#FF6600" >N.D.</text>
<text x="456.84999999999997" y="452.3" font-size="13.5" text-anchor="middle" fill="#000" stroke="#000" letter-spacing="0.3">PBS</text>
<text x="504.54999999999995" y="452.3" font-size="13.5" text-anchor="middle" fill="#000" stroke="#000" letter-spacing="0.3">IBIS</text>
<text x="569.85" y="452.3" font-size="13.5" text-anchor="middle" fill="#000" stroke="#000" letter-spacing="0.3">PBS</text>
<text x="617.65" y="452.3" font-size="13.5" text-anchor="middle" fill="#000" stroke="#000" letter-spacing="0.3">IBIS</text>
<line x1="439.0" y1="459.8" x2="521.3" y2="459.8" stroke="#000" stroke-width="1.8" />
<line x1="551.7" y1="459.8" x2="634.3" y2="459.8" stroke="#000" stroke-width="1.8" />
<text x="480.2" y="475.09999999999997" font-size="13" text-anchor="middle" fill="#000" stroke="#000" >day 2</text>
<text x="593.3" y="475.09999999999997" font-size="13" text-anchor="middle" fill="#000" stroke="#000" >day 5</text>
<text transform="translate(379.8,361.6) rotate(-90)" stroke="#000" font-size="16.3" text-anchor="middle">viral titer (PFU/g)</text>
<line x1="48.3" y1="562.2" x2="48.3" y2="708.9" stroke="#000" stroke-width="1.7" />
<line x1="47.449999999999996" y1="708.0" x2="282.0" y2="708.0" stroke="#000" stroke-width="2.1" />
<line x1="42.8" y1="563.0" x2="48.3" y2="563.0" stroke="#000" stroke-width="1.7" />
<text x="35.6" y="568.4" font-size="12.5" text-anchor="end" fill="#000" stroke="#000" >10</text>
<text x="36.6" y="561.0" font-size="8.5" text-anchor="start" fill="#000" stroke="#000" >7</text>
<line x1="42.8" y1="592.2" x2="48.3" y2="592.2" stroke="#000" stroke-width="1.7" />
<text x="35.6" y="597.6" font-size="12.5" text-anchor="end" fill="#000" stroke="#000" >10</text>
<text x="36.6" y="590.2" font-size="8.5" text-anchor="start" fill="#000" stroke="#000" >6</text>
<line x1="42.8" y1="621.3" x2="48.3" y2="621.3" stroke="#000" stroke-width="1.7" />
<text x="35.6" y="626.6999999999999" font-size="12.5" text-anchor="end" fill="#000" stroke="#000" >10</text>
<text x="36.6" y="619.3" font-size="8.5" text-anchor="start" fill="#000" stroke="#000" >5</text>
<line x1="42.8" y1="650.4" x2="48.3" y2="650.4" stroke="#000" stroke-width="1.7" />
<text x="35.6" y="655.8" font-size="12.5" text-anchor="end" fill="#000" stroke="#000" >10</text>
<text x="36.6" y="648.4" font-size="8.5" text-anchor="start" fill="#000" stroke="#000" >4</text>
<line x1="42.8" y1="679.5" x2="48.3" y2="679.5" stroke="#000" stroke-width="1.7" />
<text x="35.6" y="684.9" font-size="12.5" text-anchor="end" fill="#000" stroke="#000" >10</text>
<text x="36.6" y="677.5" font-size="8.5" text-anchor="start" fill="#000" stroke="#000" >3</text>
<line x1="49.3" y1="694.0" x2="282.0" y2="694.0" stroke="#A8A8A8" stroke-width="2.0" stroke-dasharray="4 1.7"/>
<line x1="73.0" y1="573.8" x2="105.3" y2="573.8" stroke="#000" stroke-width="1.6" />
<circle cx="79.0" cy="569.7" r="3.1" fill="#000"/>
<circle cx="89.2" cy="572.5" r="3.1" fill="#000"/>
<circle cx="100.0" cy="572.5" r="3.1" fill="#000"/>
<circle cx="89.2" cy="587.0" r="3.1" fill="#000"/>
<line x1="121.30000000000001" y1="708.0" x2="153.3" y2="708.0" stroke="#FF6600" stroke-width="1.6" />
<rect x="122.80" y="705.20" width="5.6" height="5.6" fill="#FF6600"/>
<rect x="130.60" y="705.20" width="5.6" height="5.6" fill="#FF6600"/>
<rect x="138.40" y="705.20" width="5.6" height="5.6" fill="#FF6600"/>
<rect x="146.20" y="705.20" width="5.6" height="5.6" fill="#FF6600"/>
<line x1="186.9" y1="575.0" x2="219.1" y2="575.0" stroke="#000" stroke-width="1.6" />
<circle cx="192.9" cy="573.2" r="3.1" fill="#000"/>
<circle cx="203.4" cy="570.8" r="3.1" fill="#000"/>
<circle cx="203.4" cy="576.7" r="3.1" fill="#000"/>
<circle cx="213.9" cy="580.6" r="3.1" fill="#000"/>
<line x1="235.5" y1="708.0" x2="267.5" y2="708.0" stroke="#FF6600" stroke-width="1.6" />
<rect x="238.00" y="705.20" width="5.6" height="5.6" fill="#FF6600"/>
<rect x="248.70" y="705.20" width="5.6" height="5.6" fill="#FF6600"/>
<rect x="259.40" y="705.20" width="5.6" height="5.6" fill="#FF6600"/>
<text x="138.4" y="691.0" font-size="13.5" text-anchor="middle" fill="#FF6600" stroke="#FF6600" >N.D.</text>
<text x="252.3" y="691.0" font-size="13.5" text-anchor="middle" fill="#FF6600" stroke="#FF6600" >N.D.</text>
<text x="89.15" y="728.1" font-size="13.5" text-anchor="middle" fill="#000" stroke="#000" letter-spacing="0.3">PBS</text>
<text x="136.85" y="728.1" font-size="13.5" text-anchor="middle" fill="#000" stroke="#000" letter-spacing="0.3">IBIS</text>
<text x="202.15" y="728.1" font-size="13.5" text-anchor="middle" fill="#000" stroke="#000" letter-spacing="0.3">PBS</text>
<text x="249.95000000000002" y="728.1" font-size="13.5" text-anchor="middle" fill="#000" stroke="#000" letter-spacing="0.3">IBIS</text>
<line x1="71.3" y1="735.6" x2="153.6" y2="735.6" stroke="#000" stroke-width="1.8" />
<line x1="184.0" y1="735.6" x2="266.6" y2="735.6" stroke="#000" stroke-width="1.8" />
<text x="112.5" y="750.9" font-size="13" text-anchor="middle" fill="#000" stroke="#000" >day 2</text>
<text x="225.6" y="750.9" font-size="13" text-anchor="middle" fill="#000" stroke="#000" >day 5</text>
<text transform="translate(13.9,637.1) rotate(-90)" stroke="#000" font-size="16.3" text-anchor="middle">viral titer (PFU/g)</text>
<line x1="416.0" y1="562.4" x2="416.0" y2="708.8" stroke="#000" stroke-width="1.7" />
<line x1="415.15" y1="707.9" x2="649.7" y2="707.9" stroke="#000" stroke-width="2.1" />
<line x1="410.5" y1="563.4" x2="416.0" y2="563.4" stroke="#000" stroke-width="1.7" />
<text x="402.8" y="568.8" font-size="12.5" text-anchor="end" fill="#000" stroke="#000" >10</text>
<text x="404.2" y="561.4" font-size="8.5" text-anchor="start" fill="#000" stroke="#000" >7</text>
<line x1="410.5" y1="594.7" x2="416.0" y2="594.7" stroke="#000" stroke-width="1.7" />
<text x="402.8" y="600.1" font-size="12.5" text-anchor="end" fill="#000" stroke="#000" >10</text>
<text x="404.2" y="592.7" font-size="8.5" text-anchor="start" fill="#000" stroke="#000" >6</text>
<line x1="410.5" y1="626.1" x2="416.0" y2="626.1" stroke="#000" stroke-width="1.7" />
<text x="402.8" y="631.5" font-size="12.5" text-anchor="end" fill="#000" stroke="#000" >10</text>
<text x="404.2" y="624.1" font-size="8.5" text-anchor="start" fill="#000" stroke="#000" >5</text>
<line x1="410.5" y1="657.5" x2="416.0" y2="657.5" stroke="#000" stroke-width="1.7" />
<text x="402.8" y="662.9" font-size="12.5" text-anchor="end" fill="#000" stroke="#000" >10</text>
<text x="404.2" y="655.5" font-size="8.5" text-anchor="start" fill="#000" stroke="#000" >4</text>
<line x1="410.5" y1="688.8" x2="416.0" y2="688.8" stroke="#000" stroke-width="1.7" />
<text x="402.8" y="694.1999999999999" font-size="12.5" text-anchor="end" fill="#000" stroke="#000" >10</text>
<text x="404.2" y="686.8" font-size="8.5" text-anchor="start" fill="#000" stroke="#000" >3</text>
<line x1="417.0" y1="698.7" x2="649.7" y2="698.7" stroke="#A8A8A8" stroke-width="2.0" stroke-dasharray="4 1.7"/>
<line x1="440.0" y1="598.1" x2="472.3" y2="598.1" stroke="#000" stroke-width="1.6" />
<circle cx="448.1" cy="589.5" r="3.1" fill="#000"/>
<circle cx="463.9" cy="590.0" r="3.1" fill="#000"/>
<circle cx="456.2" cy="614.6" r="3.1" fill="#000"/>
<circle cx="456.2" cy="648.9" r="3.1" fill="#000"/>
<line x1="488.0" y1="630.3" x2="520.6" y2="630.3" stroke="#FF6600" stroke-width="1.6" />
<rect x="501.40" y="609.00" width="5.6" height="5.6" fill="#FF6600"/>
<rect x="501.40" y="663.60" width="5.6" height="5.6" fill="#FF6600"/>
<rect x="501.40" y="695.90" width="5.6" height="5.6" fill="#FF6600"/>
<rect x="501.40" y="705.10" width="5.6" height="5.6" fill="#FF6600"/>
<line x1="553.2" y1="635.6" x2="584.7" y2="635.6" stroke="#000" stroke-width="1.6" />
<circle cx="560.9" cy="627.5" r="3.1" fill="#000"/>
<circle cx="576.7" cy="629.6" r="3.1" fill="#000"/>
<circle cx="569.0" cy="643.0" r="3.1" fill="#000"/>
<circle cx="569.0" cy="667.5" r="3.1" fill="#000"/>
<line x1="601.2" y1="704.9" x2="632.8" y2="704.9" stroke="#FF6600" stroke-width="1.6" />
<rect x="614.20" y="695.90" width="5.6" height="5.6" fill="#FF6600"/>
<rect x="606.10" y="705.10" width="5.6" height="5.6" fill="#FF6600"/>
<rect x="622.20" y="705.10" width="5.6" height="5.6" fill="#FF6600"/>
<text x="456.84999999999997" y="728.0" font-size="13.5" text-anchor="middle" fill="#000" stroke="#000" letter-spacing="0.3">PBS</text>
<text x="504.54999999999995" y="728.0" font-size="13.5" text-anchor="middle" fill="#000" stroke="#000" letter-spacing="0.3">IBIS</text>
<text x="569.85" y="728.0" font-size="13.5" text-anchor="middle" fill="#000" stroke="#000" letter-spacing="0.3">PBS</text>
<text x="617.65" y="728.0" font-size="13.5" text-anchor="middle" fill="#000" stroke="#000" letter-spacing="0.3">IBIS</text>
<line x1="439.0" y1="735.5" x2="521.3" y2="735.5" stroke="#000" stroke-width="1.8" />
<line x1="551.7" y1="735.5" x2="634.3" y2="735.5" stroke="#000" stroke-width="1.8" />
<text x="480.2" y="750.8" font-size="13" text-anchor="middle" fill="#000" stroke="#000" >day 2</text>
<text x="593.3" y="750.8" font-size="13" text-anchor="middle" fill="#000" stroke="#000" >day 5</text>
<text transform="translate(379.8,635.3) rotate(-90)" stroke="#000" font-size="16.3" text-anchor="middle">viral titer (PFU/g)</text>
<line x1="48.3" y1="816.0" x2="48.3" y2="962.1999999999999" stroke="#000" stroke-width="1.7" />
<line x1="47.449999999999996" y1="961.3" x2="282.0" y2="961.3" stroke="#000" stroke-width="2.1" />
<line x1="42.8" y1="816.6" x2="48.3" y2="816.6" stroke="#000" stroke-width="1.7" />
<text x="35.6" y="822.0" font-size="12.5" text-anchor="end" fill="#000" stroke="#000" >10</text>
<text x="36.6" y="814.6" font-size="8.5" text-anchor="start" fill="#000" stroke="#000" >6</text>
<line x1="42.8" y1="860.9" x2="48.3" y2="860.9" stroke="#000" stroke-width="1.7" />
<text x="35.6" y="866.3" font-size="12.5" text-anchor="end" fill="#000" stroke="#000" >10</text>
<text x="36.6" y="858.9" font-size="8.5" text-anchor="start" fill="#000" stroke="#000" >5</text>
<line x1="42.8" y1="904.8" x2="48.3" y2="904.8" stroke="#000" stroke-width="1.7" />
<text x="35.6" y="910.1999999999999" font-size="12.5" text-anchor="end" fill="#000" stroke="#000" >10</text>
<text x="36.6" y="902.8" font-size="8.5" text-anchor="start" fill="#000" stroke="#000" >4</text>
<line x1="42.8" y1="948.5" x2="48.3" y2="948.5" stroke="#000" stroke-width="1.7" />
<text x="35.6" y="953.9" font-size="12.5" text-anchor="end" fill="#000" stroke="#000" >10</text>
<text x="36.6" y="946.5" font-size="8.5" text-anchor="start" fill="#000" stroke="#000" >3</text>
<line x1="49.3" y1="948.5" x2="282.0" y2="948.5" stroke="#A8A8A8" stroke-width="2.0" stroke-dasharray="4 1.7"/>
<line x1="72.5" y1="852.9" x2="104.7" y2="852.9" stroke="#000" stroke-width="1.6" />
<circle cx="88.4" cy="836.3" r="3.1" fill="#000"/>
<circle cx="88.4" cy="854.8" r="3.1" fill="#000"/>
<circle cx="80.2" cy="874.2" r="3.1" fill="#000"/>
<circle cx="96.5" cy="874.2" r="3.1" fill="#000"/>
<line x1="121.0" y1="935.1" x2="152.6" y2="935.1" stroke="#FF6600" stroke-width="1.6" />
<rect x="134.00" y="915.10" width="5.6" height="5.6" fill="#FF6600"/>
<rect x="134.00" y="932.30" width="5.6" height="5.6" fill="#FF6600"/>
<rect x="125.80" y="958.50" width="5.6" height="5.6" fill="#FF6600"/>
<rect x="142.10" y="958.50" width="5.6" height="5.6" fill="#FF6600"/>
<line x1="185.2" y1="882.9" x2="217.7" y2="882.9" stroke="#000" stroke-width="1.6" />
<circle cx="201.6" cy="863.3" r="3.1" fill="#000"/>
<circle cx="201.6" cy="895.8" r="3.1" fill="#000"/>
<circle cx="193.6" cy="904.6" r="3.1" fill="#000"/>
<circle cx="209.3" cy="907.1" r="3.1" fill="#000"/>
<line x1="233.5" y1="955.8" x2="265.7" y2="955.8" stroke="#FF6600" stroke-width="1.6" />
<rect x="246.80" y="945.70" width="5.6" height="5.6" fill="#FF6600"/>
<rect x="238.80" y="958.50" width="5.6" height="5.6" fill="#FF6600"/>
<rect x="254.90" y="958.50" width="5.6" height="5.6" fill="#FF6600"/>
<text x="89.15" y="981.4" font-size="13.5" text-anchor="middle" fill="#000" stroke="#000" letter-spacing="0.3">PBS</text>
<text x="136.85" y="981.4" font-size="13.5" text-anchor="middle" fill="#000" stroke="#000" letter-spacing="0.3">IBIS</text>
<text x="202.15" y="981.4" font-size="13.5" text-anchor="middle" fill="#000" stroke="#000" letter-spacing="0.3">PBS</text>
<text x="249.95000000000002" y="981.4" font-size="13.5" text-anchor="middle" fill="#000" stroke="#000" letter-spacing="0.3">IBIS</text>
<line x1="71.3" y1="988.9" x2="153.6" y2="988.9" stroke="#000" stroke-width="1.8" />
<line x1="184.0" y1="988.9" x2="266.6" y2="988.9" stroke="#000" stroke-width="1.8" />
<text x="112.5" y="1004.1999999999999" font-size="13" text-anchor="middle" fill="#000" stroke="#000" >day 2</text>
<text x="225.6" y="1004.1999999999999" font-size="13" text-anchor="middle" fill="#000" stroke="#000" >day 5</text>
<text transform="translate(13.9,891.0) rotate(-90)" stroke="#000" font-size="16.3" text-anchor="middle">viral titer (PFU/g)</text>
<g fill="none" stroke="#000" stroke-width="3.6" stroke-linecap="round" stroke-linejoin="round">
<path stroke-width="3.0" d="M456.6,795.6 C458,799.6 464,799 472.4,798.8 C477.5,798.6 479,801.5 478.3,806"/>
<path d="M446.6,822 C452,811 463,806.2 475.6,806.2 C488.2,806.2 499.2,811 504.6,822"/>
<path stroke-width="2.5" d="M451,843.5 C443.5,840.5 442.3,833.5 443,829 C444.2,822.5 450,820 455.5,820 C463,820 469,825.5 468.9,836.5"/>
<path stroke-width="2.5" d="M500.2,843.5 C507.7,840.5 508.9,833.5 508.2,829 C507,822.5 501.2,820 495.7,820 C488.2,820 482.2,825.5 482.3,836.5"/>
<path d="M451,843.5 C456,852 463,863 475.6,863 C488.2,863 495.2,852 500.2,843.5"/>
</g>
<circle cx="468.5" cy="846.3" r="2.5" fill="#000"/>
<circle cx="481.5" cy="846.3" r="2.5" fill="#000"/>
<ellipse cx="475.6" cy="856.0" rx="4.3" ry="3.3" fill="#000"/>
<g fill="none" stroke="#EE7F00" stroke-width="3.4" stroke-linecap="round" stroke-linejoin="round">
<ellipse cx="603.2" cy="832.0" rx="43.6" ry="28.5"/>
<path fill="#fff" d="M573.7,818.8 C571.3,814.5 569.6,809 570.8,806 C572,803.5 576.5,803 579.3,805.6 C581.5,807.5 584,810 586,811.8"/>
<path fill="#fff" d="M621.4,813.8 C623,810 627,805 631.6,804.2 C634.5,803.8 636.5,806 636.3,809 C636.1,813 635.2,817 634.2,820.2"/>
<path d="M596.0,855.0 C599,857.6 605,857.6 609.0,854.6" stroke-width="2.6"/>
<path d="M602.3,850.5 L602.3,855.5" stroke-width="2.2"/>
</g>
<ellipse cx="590.9" cy="828.8" rx="2.6" ry="4.9" fill="#EE7F00" transform="rotate(8 590.9 828.8)"/>
<ellipse cx="613.4" cy="828.8" rx="2.6" ry="4.9" fill="#EE7F00" transform="rotate(-8 613.4 828.8)"/>
<ellipse cx="601.9" cy="847.8" rx="4.1" ry="3.1" fill="#EE7F00"/>
<text x="476.15000000000003" y="883.7" font-size="20" text-anchor="middle" fill="#000" stroke="#000" letter-spacing="1.1">IBIS</text>
<text x="475.6" y="901.2" font-size="20.2" text-anchor="middle" fill="#000" stroke="#000" >vaccinated</text>
<text x="475.6" y="918.5" font-size="20.2" text-anchor="middle" fill="#000" stroke="#000" >K18-mice</text>
<text x="602.1" y="883.9" font-size="20" text-anchor="middle" fill="#000" stroke="#000" letter-spacing="1.1">IBIS</text>
<text x="602.5" y="901.4" font-size="20.2" text-anchor="middle" fill="#000" stroke="#000" >vaccinated</text>
<text x="602.5" y="918.6" font-size="20.2" text-anchor="middle" fill="#000" stroke="#000" >hamsters</text>
<polygon points="513.5,926.1 556.5,926.1 556.5,943.1 577.7,943.1 534.6,959.7 492.3,943.1 513.5,943.1" fill="#F8DC16"/>
<text x="536.1" y="979.8" font-size="20.3" text-anchor="middle" fill="#000" stroke="#000" >heterotypic protection</text>
<text x="534.9" y="1000.8" font-size="20.3" text-anchor="middle" fill="#000" stroke="#000" >against SARS-CoV-1</text>
</svg>
</body></html>
